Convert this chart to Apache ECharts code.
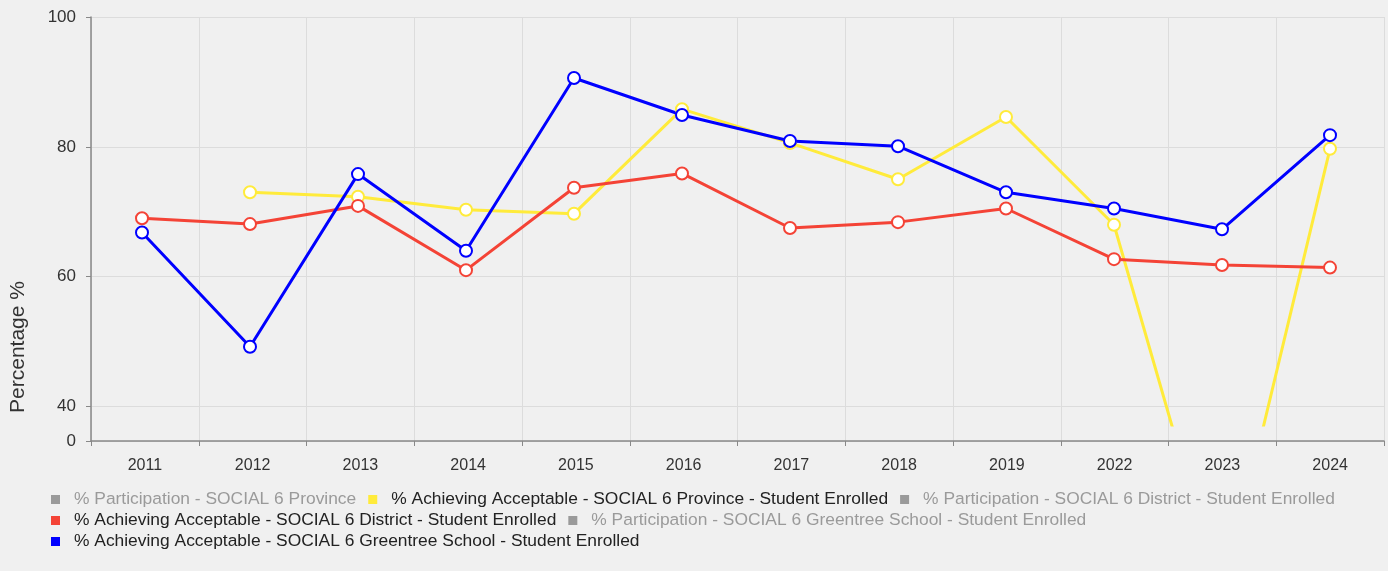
<!DOCTYPE html>
<html>
<head>
<meta charset="utf-8">
<script src="https://cdn.jsdelivr.net/npm/echarts@6/dist/echarts.min.js"></script>
<style>
  html, body { margin: 0; padding: 0; background: #f0f0f0; }
  #chart { width: 1388px; height: 571px; }
</style>
</head>
<body>
<div id="chart"></div>
<script>
// years on the x axis
var years = ['2011', '2012', '2013', '2014', '2015', '2016', '2017', '2018', '2019', '2022', '2023', '2024'];

// % achieving acceptable
var provinceAch = [null, 73.0, 72.3, 70.3, 69.7, 85.8, 80.6, 75.0, 84.6, 68.0, 10.3, 79.7];
var districtAch = [69.0, 68.1, 70.9, 61.0, 73.7, 75.9, 67.5, 68.4, 70.5, 62.7, 61.8, 61.4];
var schoolAch = [66.8, 49.2, 75.8, 64.0, 90.6, 84.9, 80.9, 80.1, 73.0, 70.5, 67.3, 81.8];

// y tick labels (bottom one is the broken-axis "0")
var yTicks = [34.69, 40, 60, 80, 100];

var names = [
  '% Participation - SOCIAL 6 Province',
  '% Achieving Acceptable - SOCIAL 6 Province - Student Enrolled',
  '% Participation - SOCIAL 6 District - Student Enrolled',
  '% Achieving Acceptable - SOCIAL 6 District - Student Enrolled',
  '% Participation - SOCIAL 6 Greentree School - Student Enrolled',
  '% Achieving Acceptable - SOCIAL 6 Greentree School - Student Enrolled'
];

var chart = echarts.init(document.getElementById('chart'));

function lineSeries(name, color, data) {
  return {
    name: name,
    type: 'line',
    xAxisIndex: 0,
    yAxisIndex: 0,
    data: data,
    symbol: 'emptyCircle',
    symbolSize: 12,
    lineStyle: { width: 3, color: color },
    itemStyle: { color: color, borderWidth: 3 },
    emphasis: { disabled: true }
  };
}

var selected = {};
selected[names[0]] = false;
selected[names[2]] = false;
selected[names[4]] = false;

// one legend per row so the rows sit like the original
function legendRow(items, top) {
  return {
    data: items,
    selected: selected,
    left: 51,
    top: top,
    padding: 0,
    itemGap: 12,
    itemWidth: 9,
    itemHeight: 9,
    icon: 'rect',
    inactiveColor: '#9a9a9a',
    textStyle: { fontSize: 17.4, color: '#222', padding: [0, 0, 0, 9] }
  };
}

chart.setOption({
  backgroundColor: '#f0f0f0',
  textStyle: { fontFamily: 'Liberation Sans, Arial, sans-serif' },
  animation: false,
  legend: [
    legendRow(names.slice(0, 3), 491),
    legendRow(names.slice(3, 5), 512),
    legendRow(names.slice(5, 6), 533)
  ],
  grid: [
    // data grid: clipped a bit above the axis line
    { left: 88, right: 4, top: 17, bottom: 146 },
    // axes grid
    { left: 88, right: 4, top: 17, bottom: 130 }
  ],
  xAxis: [
    { type: 'category', gridIndex: 0, data: years, show: false },
    {
      type: 'category', gridIndex: 1, data: years,
      axisLine: { lineStyle: { color: '#888', width: 1.5 } },
      axisTick: { show: true, length: 5, lineStyle: { color: '#888' } },
      axisLabel: { color: '#333', fontSize: 16, margin: 17 },
      splitLine: { show: true, lineStyle: { color: '#dcdcdc' } }
    }
  ],
  yAxis: [
    { type: 'value', gridIndex: 0, min: 37.15, max: 100, show: false },
    {
      type: 'value', gridIndex: 1, min: yTicks[0], max: 100,
      name: 'Percentage %',
      nameLocation: 'middle',
      nameRotate: 90,
      nameGap: 62,
      nameTextStyle: { fontSize: 21, color: '#333', padding: [0, 236, 0, 0] },
      axisLine: { show: true, lineStyle: { color: '#888', width: 1.5 } },
      axisTick: { show: true, length: 5, customValues: yTicks, lineStyle: { color: '#888' } },
      axisLabel: {
        color: '#333', fontSize: 17, margin: 15,
        customValues: yTicks,
        formatter: function (v) { return v < 40 ? '0' : String(v); }
      },
      splitLine: { show: true, lineStyle: { color: '#dcdcdc' } }
    }
  ],
  series: [
    { name: names[0], type: 'line', data: [], itemStyle: { color: '#9a9a9a' } },
    lineSeries(names[1], '#ffeb3b', provinceAch),
    { name: names[2], type: 'line', data: [], itemStyle: { color: '#9a9a9a' } },
    lineSeries(names[3], '#f44336', districtAch),
    { name: names[4], type: 'line', data: [], itemStyle: { color: '#9a9a9a' } },
    lineSeries(names[5], '#0000ff', schoolAch)
  ]
});
</script>
</body>
</html>
